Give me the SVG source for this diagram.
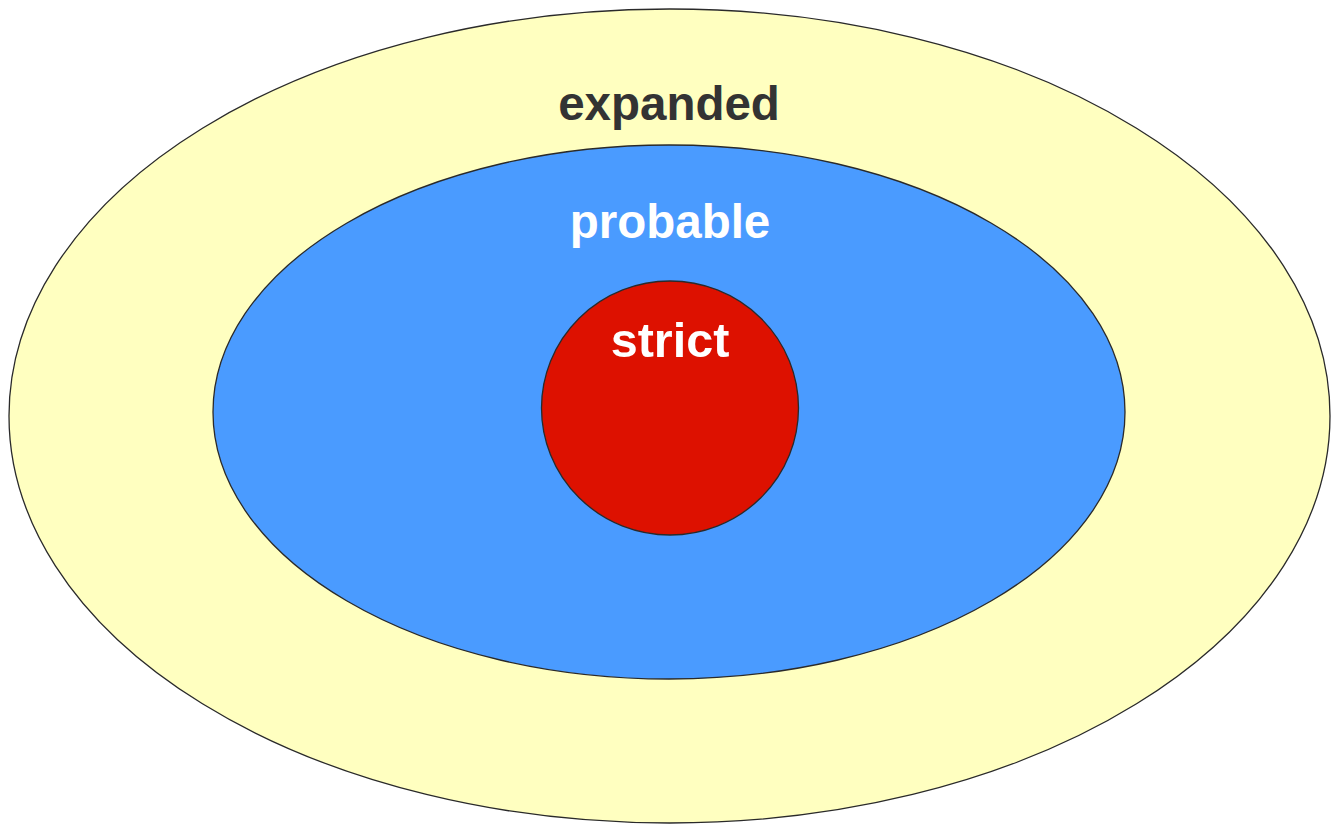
<svg xmlns="http://www.w3.org/2000/svg" width="1339" height="825" viewBox="0 0 1339 825">
  <style>
    .ring { stroke: #2a2a2a; stroke-width: 1.3; }
    .label { font-family: "Liberation Sans", Arial, sans-serif; font-weight: bold; font-size: 47.5px; text-anchor: middle; }
  </style>
  <rect x="0" y="0" width="1339" height="825" fill="#ffffff"/>
  <g id="expanded">
    <ellipse class="ring" cx="669.5" cy="416" rx="660.5" ry="407" fill="#ffffc0"/>
    <text class="label" x="669" y="120" fill="#333333">expanded</text>
  </g>
  <g id="probable">
    <ellipse class="ring" cx="669" cy="412" rx="456" ry="267" fill="#4a9bff"/>
    <text class="label" x="670" y="238" fill="#ffffff">probable</text>
  </g>
  <g id="strict">
    <ellipse class="ring" cx="670" cy="408" rx="128.5" ry="127" fill="#dd1100"/>
    <text class="label" x="670" y="357" fill="#ffffff" style="font-size:48.5px">strict</text>
  </g>
  <g id="connectors"/>
</svg>
